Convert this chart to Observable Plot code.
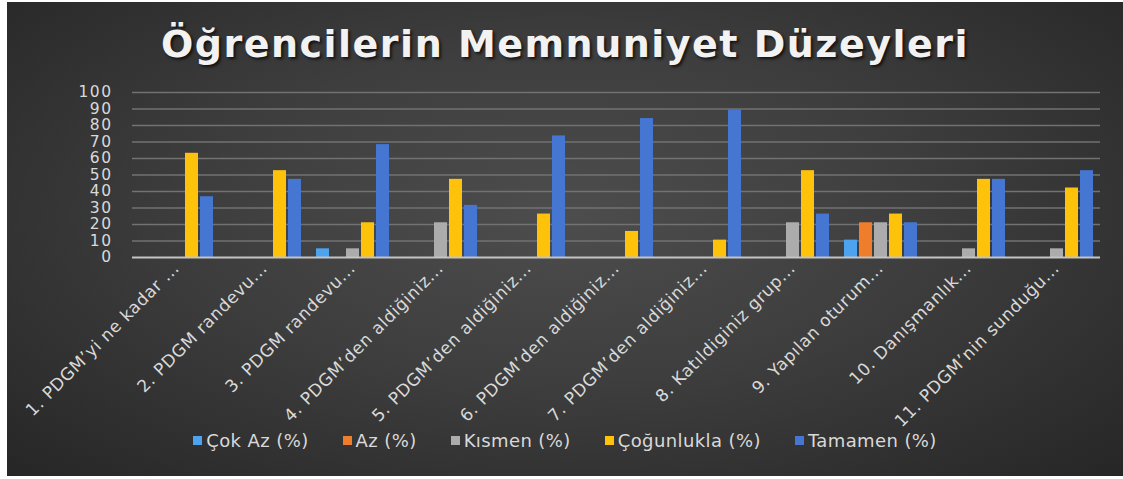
<!DOCTYPE html>
<html>
<head>
<meta charset="utf-8">
<script src="https://cdn.jsdelivr.net/npm/d3@7"></script>
<script src="https://cdn.jsdelivr.net/npm/@observablehq/plot@0.6"></script>
<style>
  html, body { margin: 0; padding: 0; background: #ffffff; width: 1123px; height: 479px; overflow: hidden; }
  #panel {
    position: absolute; left: 7px; top: 2px; width: 1116px; height: 474px;
    background: radial-gradient(ellipse at 50% 45%, #4d4d4d 0%, #3e3e3e 45%, #262626 100%);
    font-family: "DejaVu Sans", sans-serif;
  }
  #title {
    position: absolute; left: 0; top: 20px; width: 1116px; text-align: center;
    color: #f2f2f2; font-size: 38px; font-weight: bold; letter-spacing: 1.5px;
    text-shadow: 2px 2px 3px rgba(0,0,0,0.7);
  }
  #chart { position: absolute; left: 0; top: 78px; }
  #legend {
    position: absolute; left: 0; top: 428px; width: 1116px;
    display: flex; justify-content: center; gap: 34px;
    color: #d9d9d9; font-size: 18px; letter-spacing: 0.4px;
  }
  .item { display: flex; align-items: center; gap: 4px; }
  .sw { width: 9px; height: 9px; display: inline-block; }
</style>
</head>
<body>
<div id="panel">
  <div id="title">Öğrencilerin Memnuniyet Düzeyleri</div>
  <div id="chart"></div>
  <div id="legend"></div>
</div>
<script>
const categories = [
  "1. PDGM’yi ne kadar ...",
  "2. PDGM randevu...",
  "3. PDGM randevu...",
  "4. PDGM’den aldiğiniz...",
  "5. PDGM’den aldiğiniz...",
  "6. PDGM’den aldiğiniz...",
  "7. PDGM’den aldiğiniz...",
  "8. Katıldiginiz grup...",
  "9. Yapılan oturum...",
  "10. Danışmanlık...",
  "11. PDGM’nin sunduğu..."
];
const series = ["Çok Az (%)", "Az (%)", "Kısmen (%)", "Çoğunlukla (%)", "Tamamen (%)"];
const cokAz      = [0, 0, 5.26, 0, 0, 0, 0, 0, 10.53, 0, 0];
const az         = [0, 0, 0, 0, 0, 0, 0, 0, 21.05, 0, 0];
const kismen     = [0, 0, 5.26, 21.05, 0, 0, 0, 21.05, 21.05, 5.26, 5.26];
const cogunlukla = [63.16, 52.63, 21.05, 47.37, 26.32, 15.79, 10.53, 52.63, 26.32, 47.37, 42.11];
const tamamen    = [36.84, 47.37, 68.42, 31.58, 73.68, 84.21, 89.47, 26.32, 21.05, 47.37, 52.63];
const colors = ["#4ea3ee", "#ef7d2c", "#acacac", "#ffc20a", "#4476d2"];
const yTicks = [0, 10, 20, 30, 40, 50, 60, 70, 80, 90, 100];

const seriesValues = [cokAz, az, kismen, cogunlukla, tamamen];
const data = categories.flatMap((c, i) =>
  series.map((s, j) => ({category: c, series: s, value: seriesValues[j][i]}))
);

const chart = Plot.plot({
  width: 1116,
  height: 340,
  marginLeft: 123,
  marginRight: 22,
  marginTop: 12,
  marginBottom: 163,
  style: {background: "transparent", color: "#d9d9d9", fontFamily: "DejaVu Sans, sans-serif", fontSize: "17px", overflow: "visible"},
  facet: {data, x: "category"},
  fx: {domain: categories, padding: 0, label: null, tickRotate: -45, tickSize: 0, tickPadding: 8},
  x: {domain: series, paddingInner: 0.15, paddingOuter: 0.47, axis: null},
  y: {domain: [0, 100], ticks: yTicks, tickSize: 0, tickPadding: 20, label: null, tickFormat: d => String(d)},
  color: {domain: series, range: colors},
  marks: [
    Plot.ruleY(yTicks.slice(1), {stroke: "#727272", strokeWidth: 1.5}),
    Plot.barY(data, {x: "series", y: "value", fill: "series"}),
    Plot.ruleY([0], {stroke: "#c4c4c4", strokeWidth: 2})
  ]
});
document.getElementById("chart").appendChild(chart);

d3.select(chart).selectAll('g[aria-label^="y-axis"] text')
  .style("font-size", "15.5px").style("letter-spacing", "1.5px");
d3.select(chart).selectAll('g[aria-label^="fx-axis"] text')
  .style("letter-spacing", "0.6px");

const legend = d3.select("#legend");
series.forEach((s, i) => {
  const it = legend.append("div").attr("class", "item");
  it.append("span").attr("class", "sw").style("background", colors[i]);
  it.append("span").text(s);
});
</script>
</body>
</html>
